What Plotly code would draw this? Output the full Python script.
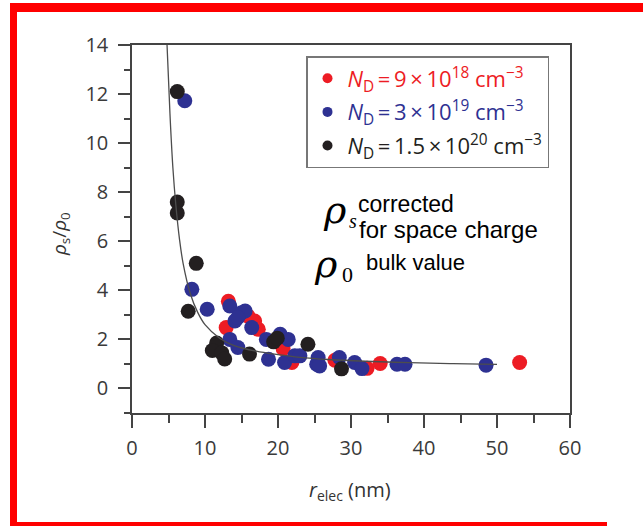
import plotly.graph_objects as go

# ---- data ----
red_r = [13.2, 12.9, 15.9, 16.8, 17.3, 20.7, 21.9, 27.8, 32.2, 34.0, 53.1]
red_y = [3.55, 2.48, 2.95, 2.75, 2.41, 1.62, 1.06, 1.15, 0.82, 1.02, 1.06]

blue_r = [7.23, 8.2, 10.3, 13.4, 15.0, 15.5, 14.1, 14.5, 16.4, 13.4, 14.5, 18.4, 18.7,
          20.3, 21.4, 20.9, 22.3, 23.0, 25.3, 25.5, 25.7, 28.4, 30.5, 31.5, 36.3, 37.4, 48.5]
blue_y = [11.73, 4.04, 3.23, 3.36, 3.09, 3.16, 2.75, 2.89, 2.48, 2.0, 1.67, 2.0, 1.19,
          2.21, 2.0, 1.06, 1.33, 1.33, 0.99, 1.26, 0.92, 1.26, 1.06, 0.81, 0.99, 0.99, 0.95]

black_r = [6.2, 6.2, 6.2, 8.8, 7.7, 11.6, 11.0, 12.3, 12.7, 16.1, 19.4, 19.9, 24.1, 28.7]
black_y = [12.1, 7.6, 7.15, 5.1, 3.15, 1.85, 1.55, 1.45, 1.2, 1.4, 1.9, 2.05, 1.8, 0.8]

fit_r = [4.8, 5.2, 5.6, 6.0, 6.5, 7.0, 8.0, 9.0, 10.0, 12.0, 14.0, 17.0, 20.0, 23.0,
         27.0, 32.0, 38.0, 44.0, 50.0]
fit_y = [14.0, 11.2, 9.0, 7.5, 6.1, 5.1, 3.85, 3.1, 2.6, 2.05, 1.75, 1.52, 1.38, 1.27,
         1.18, 1.11, 1.05, 1.01, 0.98]

TS = "\u2009"  # thin space
series_names = [f"<i>N</i><sub>D</sub>{TS}={TS}9{TS}×{TS}10<sup>18</sup> cm<sup>−3</sup>",
                f"<i>N</i><sub>D</sub>{TS}={TS}3{TS}×{TS}10<sup>19</sup> cm<sup>−3</sup>",
                f"<i>N</i><sub>D</sub>{TS}={TS}1.5{TS}×{TS}10<sup>20</sup> cm<sup>−3</sup>"]
colors = ["#ed1c24", "#2e3192", "#231f20"]

x_ticks = [0, 10, 20, 30, 40, 50, 60]
y_ticks = [0, 2, 4, 6, 8, 10, 12, 14]

# ---- layout helpers (page pixels -> paper fractions) ----
W, H = 643, 526
L, R, T, B = 132, 570, 45, 413


def fx(px):
    return (px - L) / (R - L)


def fy(py):
    return (B - py) / (B - T)


fig = go.Figure()

for xs, ys, c in [(red_r, red_y, colors[0]), (blue_r, blue_y, colors[1]), (black_r, black_y, colors[2])]:
    fig.add_trace(go.Scatter(x=xs, y=ys, mode="markers", showlegend=False,
                             marker=dict(size=15, color=c, line=dict(width=0))))

fig.add_trace(go.Scatter(x=fit_r, y=fit_y, mode="lines", line=dict(color="#4d4d4d", width=1.3, shape="spline"),
                         showlegend=False, hoverinfo="skip"))

for i, (name, c) in enumerate(zip(series_names, colors)):
    fig.add_trace(go.Scatter(x=[None], y=[None], mode="markers", legendgroup=f"g{i}",
                             name=f'<span style="color:{c}">{name}</span>',
                             marker=dict(size=10, color=c)))

axis_common = dict(showline=True, linecolor="#444", linewidth=1.5, mirror=True, ticks="outside",
                   tickcolor="#444", tickwidth=1.5, showgrid=False, zeroline=False,
                   tickfont=dict(family="Open Sans", size=20, color="#3a3a3a"))

fig.update_xaxes(range=[0, 60], tickvals=x_ticks, ticklen=13, ticklabelstandoff=3,
                 minor=dict(dtick=5, ticklen=8, ticks="outside", tickcolor="#444", tickwidth=1.5),
                 **axis_common)
fig.update_yaxes(range=[-1, 14], tickvals=y_ticks, ticklen=12, ticklabelstandoff=6,
                 minor=dict(dtick=1, ticklen=6, ticks="outside", tickcolor="#444", tickwidth=1.5),
                 **axis_common)

annots = [
    dict(text="<i>ρ</i><sub>s</sub>/<i>ρ</i><sub>0</sub>", x=fx(60), y=fy(234), textangle=-90,
         font=dict(family="Open Sans", size=19, color="#333"), xanchor="center", yanchor="middle"),
    dict(text="<i>r</i><sub>elec</sub> (nm)", x=fx(350), y=fy(490),
         font=dict(family="Open Sans", size=20, color="#333"), xanchor="center", yanchor="middle"),
    dict(text="<i>ρ</i>", x=fx(321), y=fy(210), font=dict(family="DejaVu Serif", size=38, color="black"),
         xanchor="left", yanchor="middle"),
    dict(text="<i>s</i>", x=fx(347), y=fy(221), font=dict(family="Liberation Serif", size=20, color="black"),
         xanchor="left", yanchor="middle"),
    dict(text="corrected", x=fx(356), y=fy(204), font=dict(family="Liberation Sans", size=23, color="black"),
         xanchor="left", yanchor="middle"),
    dict(text="for space charge", x=fx(357), y=fy(229), font=dict(family="Liberation Sans", size=24, color="black"),
         xanchor="left", yanchor="middle"),
    dict(text="<i>ρ</i>", x=fx(312), y=fy(264), font=dict(family="DejaVu Serif", size=38, color="black"),
         xanchor="left", yanchor="middle"),
    dict(text="0", x=fx(340), y=fy(274), font=dict(family="Liberation Serif", size=22, color="black"),
         xanchor="left", yanchor="middle"),
    dict(text="bulk value", x=fx(364), y=fy(262), font=dict(family="Liberation Sans", size=22, color="black"),
         xanchor="left", yanchor="middle"),
]
for a in annots:
    a.update(xref="paper", yref="paper", showarrow=False)

# red frame around picture
shapes = [
    dict(type="rect", x0=fx(10), x1=fx(643), y0=fy(3), y1=fy(12)),
    dict(type="rect", x0=fx(10), x1=fx(17), y0=fy(3), y1=fy(526)),
    dict(type="rect", x0=fx(10), x1=fx(607), y0=fy(522), y1=fy(526)),
]
for s in shapes:
    s.update(xref="paper", yref="paper", fillcolor="#ff0000", line=dict(width=0), layer="above")

fig.update_layout(
    width=W, height=H,
    margin=dict(l=L, r=W - R, t=T, b=H - B),
    paper_bgcolor="white", plot_bgcolor="white",
    annotations=annots, shapes=shapes,
    legend=dict(x=fx(306), y=fy(56), xanchor="left", yanchor="top",
                bordercolor="#777", borderwidth=1.5, bgcolor="white",
                font=dict(family="Open Sans", size=22), tracegroupgap=2),
)

fig.write_html("out.html", config={"displayModeBar": False},
               post_script="document.body.style.margin='0';document.body.style.overflow='hidden';")
